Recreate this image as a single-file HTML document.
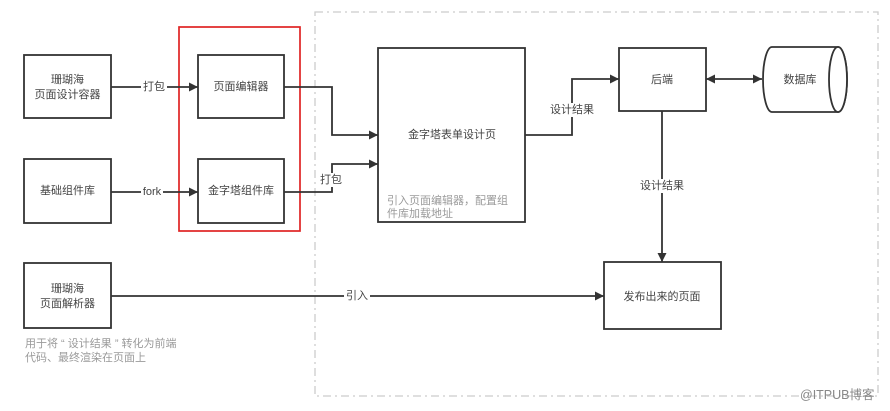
<!DOCTYPE html>
<html><head><meta charset="utf-8"><style>
html,body{margin:0;padding:0;background:#fff;}
svg{display:block;}
text{font-family:"Liberation Sans","Noto Sans CJK SC",sans-serif;font-size:11px;fill:#444;}
.g{fill:#9a9a9a;}
</style></head><body>
<svg width="890" height="411" viewBox="0 0 890 411" xmlns="http://www.w3.org/2000/svg">
<defs>
<marker id="a" viewBox="0 0 10 10" refX="10" refY="5" markerWidth="10" markerHeight="9" markerUnits="userSpaceOnUse" orient="auto-start-reverse">
<path d="M0,0 L10,5 L0,10 z" fill="#333"/>
</marker>
</defs>
<!-- dashed region -->
<rect x="315" y="12" width="563" height="384" fill="none" stroke="#ccc" stroke-width="1.3" stroke-dasharray="8,4,2,4"/>
<!-- red rect -->
<rect x="179" y="27" width="121" height="204" fill="none" stroke="#e02424" stroke-width="1.7"/>

<g fill="#fff" stroke="#333" stroke-width="1.8">
<rect x="24" y="55" width="87" height="63"/>
<rect x="24" y="159" width="87" height="64"/>
<rect x="198" y="55" width="86" height="63"/>
<rect x="198" y="159" width="86" height="64"/>
<rect x="378" y="48" width="147" height="174"/>
<rect x="619" y="48" width="87" height="63"/>
<rect x="24" y="263" width="87" height="65"/>
<rect x="604" y="262" width="117" height="67"/>
<path d="M772,47 L838,47 A9,32.5 0 0 1 838,112 L772,112 A9,32.5 0 0 1 772,47 Z"/>
<ellipse cx="838" cy="79.5" rx="9" ry="32.5"/>
</g>

<g fill="none" stroke="#333" stroke-width="1.8">
<path d="M111,87 L198,87" marker-end="url(#a)"/>
<path d="M111,192 L198,192" marker-end="url(#a)"/>
<path d="M284,87 L332,87 L332,135 L378,135" marker-end="url(#a)"/>
<path d="M284,192 L332,192 L332,164 L378,164" marker-end="url(#a)"/>
<path d="M525,135 L572,135 L572,79 L619,79" marker-end="url(#a)"/>
<path d="M706,79 L762,79" marker-start="url(#a)" marker-end="url(#a)"/>
<path d="M662,111 L662,262" marker-end="url(#a)"/>
<path d="M111,296 L604,296" marker-end="url(#a)"/>
</g>

<!-- label backgrounds -->
<g fill="#fff">
<rect x="141" y="80" width="26" height="14"/>
<rect x="141" y="185" width="22" height="14"/>
<rect x="318" y="173" width="26" height="14"/>
<rect x="548" y="103" width="48" height="14"/>
<rect x="638" y="179" width="48" height="14"/>
<rect x="344" y="289" width="26" height="14"/>
</g>

<g text-anchor="middle" dominant-baseline="central">
<text x="67.5" y="80">珊瑚海</text>
<text x="67.5" y="95">页面设计容器</text>
<text x="67.5" y="191">基础组件库</text>
<text x="241" y="87">页面编辑器</text>
<text x="241" y="191">金字塔组件库</text>
<text x="452" y="135">金字塔表单设计页</text>
<text x="662" y="80">后端</text>
<text x="800" y="80">数据库</text>
<text x="662" y="297">发布出来的页面</text>
<text x="67.5" y="289">珊瑚海</text>
<text x="67.5" y="304">页面解析器</text>
<text x="154" y="87">打包</text>
<text x="152" y="192">fork</text>
<text x="331" y="180">打包</text>
<text x="572" y="110">设计结果</text>
<text x="662" y="186">设计结果</text>
<text x="357" y="296">引入</text>
</g>

<g dominant-baseline="central">
<text class="g" x="387" y="201">引入页面编辑器，配置组</text>
<text class="g" x="387" y="214">件库加载地址</text>
<text class="g" x="25" y="344">用于将 “ 设计结果 ” 转化为前端</text>
<text class="g" x="25" y="358">代码、最终渲染在页面上</text>
<text x="800" y="395" style="fill:#888;font-size:12.5px">@ITPUB博客</text>
</g>
</svg>
</body></html>
